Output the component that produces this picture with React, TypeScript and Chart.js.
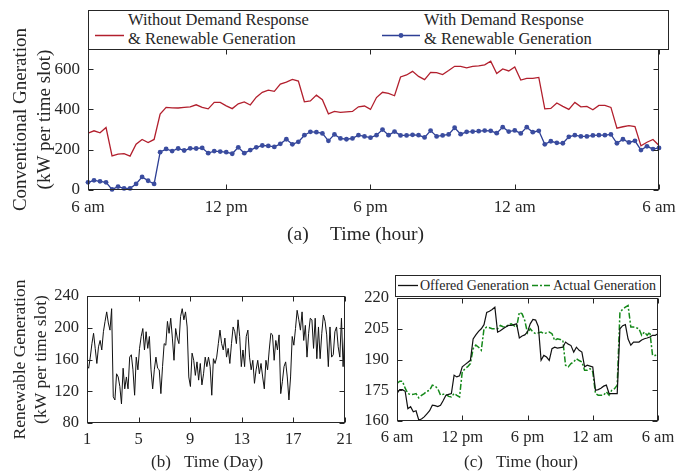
import React, { useEffect, useRef } from 'react';
import { Chart, registerables } from 'chart.js';
Chart.register(...registerables);

const SERIF = '"Liberation Serif", "Times New Roman", Times, serif';
const INK = '#262626';
const RED = '#b21f2d';
const BLUE = '#2d3f95';
const GREEN = '#15891a';

// ---------- Panel (a): conventional generation, 96 slots of 15 min ----------
const hourTickLabels = ['6 am', '12 pm', '6 pm', '12 am', '6 am'];
const slotTicksA = [1, 24, 48, 72, 96];
const convTicks = [0, 200, 400, 600];
const withoutDR = [
  282, 294, 284, 310, 169, 178, 181, 168, 227, 251, 236, 251, 377, 410, 408, 407, 410, 413, 423, 410, 403, 435, 435, 418,
  404, 428, 437, 422, 461, 485, 496, 490, 526, 536, 549, 541, 438, 442, 471, 448, 378, 390, 385, 388, 390, 413, 417, 400,
  459, 485, 480, 468, 561, 571, 589, 564, 548, 584, 583, 573, 593, 614, 614, 606, 614, 616, 621, 639, 578, 601, 591, 611,
  546, 554, 554, 559, 403, 405, 432, 415, 400, 435, 413, 415, 398, 420, 420, 410, 307, 314, 320, 315, 219, 237, 251, 221,
];
const withDR = [
  38, 48, 43, 38, 3, 17, 8, 8, 30, 65, 46, 30, 188, 204, 193, 206, 196, 207, 206, 209, 183, 193, 191, 188,
  180, 212, 183, 198, 212, 221, 219, 214, 229, 252, 227, 239, 272, 289, 287, 281, 244, 276, 256, 252, 256, 272, 266, 260,
  272, 300, 272, 290, 271, 271, 274, 272, 261, 295, 266, 271, 276, 309, 277, 289, 290, 292, 295, 294, 282, 312, 290, 296,
  281, 312, 287, 294, 227, 242, 234, 232, 264, 272, 266, 266, 271, 272, 272, 276, 232, 252, 236, 244, 198, 217, 203, 209,
];

// ---------- Panel (b): renewable generation over 21 days ----------
const dayTicks = [1, 5, 9, 13, 17, 21];
const dayLabels = ['1', '5', '9', '13', '17', '21'];
const renewTicks = [80, 120, 160, 200, 240];
const renewable = [
  152, 149, 163, 180, 193, 174, 155, 176, 184, 172, 195, 208, 220, 206, 197, 224,
  113, 109, 142, 138, 126, 104, 149, 123, 138, 123,
  163, 166, 147, 115, 163, 147, 174, 189, 199, 172,
  195, 174, 189, 147, 123, 147, 163, 149, 147, 117,
  151, 180, 178, 208, 193, 212, 187, 159, 199, 187,
  180, 214, 224, 210, 220, 201, 138, 126, 168, 159,
  140, 157, 134, 155, 128, 142, 163, 151, 163, 151,
  115, 161, 155, 163, 180, 197, 180, 172, 187, 163,
  174, 155, 180, 201, 195, 180, 210, 189, 151, 172,
  151, 189, 197, 163, 147, 159, 130, 147, 159, 142,
  155, 138, 123, 159, 147, 172, 193, 191, 159, 184,
  172, 191, 117, 132, 151, 157, 138, 109, 138, 189,
  178, 199, 222, 210, 197, 220, 184, 203, 163, 193,
  212, 210, 174, 212, 161, 201, 161, 193, 216, 208,
  191, 151, 201, 163, 166, 195, 201, 176, 163, 212,
  151, 195,
];

// ---------- Panel (c): offered vs actual generation, 97 slots ----------
const slotTicksC = [0, 24, 48, 72, 96];
const genTicks = [160, 175, 190, 205, 220];
const offered = [
  173.4, 175.3, 175.3, 174.5, 166, 167, 164.5, 165, 160.5, 161, 162, 163.5, 165, 167.7, 167.5, 167, 167.7, 170, 172.6, 173, 173.4, 182.3, 181.5, 182,
  186.4, 187.5, 188.5, 189.6, 200, 202, 203.7, 205, 207, 213, 213.5, 214.4, 215.5, 203.4, 204, 205, 205.8, 206.6, 206.6, 207, 207.4, 200.5, 201.5, 202,
  203.4, 207.4, 209.5, 209.2, 206, 189.6, 192, 191.2, 189.6, 195.3, 196, 195.6, 195.8, 196, 198.5, 197.5, 196.8, 193.6, 196, 194.5, 193.6, 186.4, 187.2, 186.8,
  186.4, 175, 175.3, 176, 177, 177.5, 173.4, 173.4, 173.4, 173.4, 205, 206.5, 207, 200, 197, 198.5, 198.5, 198.5, 199.5, 200.1, 200.5, 201, 201.8, 201.8, 202.6,
];
const actual = [
  178.3, 179.4, 179.4, 176, 173.4, 172.9, 173, 173.4, 171.3, 172.5, 173.4, 174.5, 175, 177.5, 177, 175.8, 172.6, 173, 173, 172, 171.7, 173.4, 172.5, 171.7,
  184, 185.5, 186.5, 188, 195.3, 197, 196, 194.5, 205, 205.8, 205.5, 205, 205, 205, 206.6, 206, 205.8, 207, 207.4, 206.5, 205.8, 213, 212.3, 209,
  203, 205, 203.4, 202.6, 203, 203.4, 202.6, 203, 203.4, 202.6, 199.3, 200.1, 199.8, 199.3, 187.2, 186.4, 188, 188.8, 190.4, 189.5, 188.8, 184.7, 184.7, 185.5,
  184, 173.4, 172.6, 172.6, 172.6, 174.2, 172.6, 175, 175.8, 177.5, 213.1, 214.5, 215.5, 216.3, 205.8, 205.8, 205.5, 205, 201.8, 203.4, 201.8, 203.4, 192, 192, 192.5,
];

// MATLAB-like box with inward tick marks on all four sides
const matlabBox = {
  id: 'matlabBox',
  afterDatasetsDraw(chart: any) {
    const { ctx, chartArea: a, scales } = chart;
    ctx.save();
    ctx.strokeStyle = INK;
    ctx.lineWidth = 1;
    const L = Math.round(a.left) + 0.5;
    const R = Math.round(a.right) - 0.5;
    const T = Math.round(a.top) + 0.5;
    const B = Math.round(a.bottom) - 0.5;
    const tl = 5;
    ctx.beginPath();
    scales.x.ticks.forEach((t: any) => {
      const p = Math.round(scales.x.getPixelForValue(t.value)) + 0.5;
      ctx.moveTo(p, B); ctx.lineTo(p, B - tl);
      ctx.moveTo(p, T); ctx.lineTo(p, T + tl);
    });
    scales.y.ticks.forEach((t: any) => {
      const p = Math.round(scales.y.getPixelForValue(t.value)) + 0.5;
      ctx.moveTo(L, p); ctx.lineTo(L + tl, p);
      ctx.moveTo(R, p); ctx.lineTo(R - tl, p);
    });
    ctx.stroke();
    ctx.strokeRect(L, T, R - L, B - T);
    ctx.restore();
  },
};

function buildOptions(o: any) {
  return {
    responsive: false,
    animation: false,
    events: [],
    layout: { padding: o.padding },
    plugins: { legend: { display: false }, tooltip: { enabled: false } },
    scales: {
      x: {
        type: 'linear',
        min: o.xMin,
        max: o.xMax,
        afterBuildTicks: (s: any) => { s.ticks = o.xTicks.map((v: number) => ({ value: v })); },
        afterFit: (s: any) => { s.height = o.xHeight; },
        grid: { display: false, drawTicks: false },
        border: { display: false },
        ticks: {
          color: INK,
          font: { family: SERIF, size: o.tickSize },
          padding: o.xPad,
          maxRotation: 0,
          autoSkip: false,
          callback: (_v: any, i: number) => o.xLabels[i],
        },
      },
      y: {
        type: 'linear',
        min: o.yMin,
        max: o.yMax,
        afterBuildTicks: (s: any) => { s.ticks = o.yTicks.map((v: number) => ({ value: v })); },
        afterFit: (s: any) => { s.width = o.yWidth; },
        grid: { display: false, drawTicks: false },
        border: { display: false },
        ticks: {
          color: INK,
          font: { family: SERIF, size: o.tickSize },
          padding: 8,
          callback: (v: any) => String(v),
        },
        title: o.yTitle
          ? {
              display: true,
              text: o.yTitle,
              color: INK,
              font: { family: SERIF, size: o.titleSize, lineHeight: 1.25 },
              padding: { top: 9, bottom: 0 },
            }
          : { display: false },
      },
    },
  };
}

function ChartCanvas({ left, top, width, height, build }: any) {
  const ref = useRef<HTMLCanvasElement>(null);
  useEffect(() => {
    const chart = new Chart(ref.current as HTMLCanvasElement, build());
    return () => chart.destroy();
  }, []);
  return (
    <canvas
      ref={ref}
      width={width}
      height={height}
      style={{ position: 'absolute', left, top, width, height, display: 'block' }}
    />
  );
}

const buildA = () => ({
  type: 'line',
  data: {
    datasets: [
      {
        data: withoutDR.map((y, i) => ({ x: i + 1, y })),
        borderColor: RED,
        borderWidth: 1.3,
        pointRadius: 0,
        tension: 0,
      },
      {
        data: withDR.map((y, i) => ({ x: i + 1, y })),
        borderColor: BLUE,
        borderWidth: 1.3,
        pointRadius: 2.4,
        pointBackgroundColor: '#3a4c9f',
        pointBorderColor: '#3a4c9f',
        pointBorderWidth: 0,
        tension: 0,
        clip: false,
      },
    ],
  },
  options: buildOptions({
    padding: { top: 49, right: 27, left: 0, bottom: 0 },
    xMin: 1, xMax: 96, xTicks: slotTicksA, xLabels: hourTickLabels, xHeight: 60, xPad: 7,
    yMin: 0, yMax: 700, yTicks: convTicks, yWidth: 88,
    tickSize: 17,
    yTitle: ['Conventional Gneration', '(kW per time slot)'],
    titleSize: 19,
  }),
  plugins: [matlabBox],
});

const buildB = () => ({
  type: 'line',
  data: {
    datasets: [
      {
        data: renewable.map((y, i) => ({ x: 1 + (i * 20) / (renewable.length - 1), y })),
        borderColor: '#111111',
        borderWidth: 1,
        pointRadius: 0,
        tension: 0,
      },
    ],
  },
  options: buildOptions({
    padding: { top: 41, right: 12, left: 0, bottom: 0 },
    xMin: 1, xMax: 21, xTicks: dayTicks, xLabels: dayLabels, xHeight: 32, xPad: 7,
    yMin: 80, yMax: 240, yTicks: renewTicks, yWidth: 87,
    tickSize: 16.5,
    yTitle: ['Renewable Generation', '(kW per time slot)'],
    titleSize: 17.5,
  }),
  plugins: [matlabBox],
});

const buildC = () => ({
  type: 'line',
  data: {
    datasets: [
      {
        data: offered.map((y, i) => ({ x: i, y })),
        borderColor: '#111111',
        borderWidth: 1.2,
        pointRadius: 0,
        tension: 0,
      },
      {
        data: actual.map((y, i) => ({ x: i, y })),
        borderColor: GREEN,
        borderWidth: 1.5,
        borderDash: [6, 2, 2, 2],
        pointRadius: 0,
        tension: 0,
      },
    ],
  },
  options: buildOptions({
    padding: { top: 43, right: 28, left: 0, bottom: 0 },
    xMin: 0, xMax: 96, xTicks: slotTicksC, xLabels: hourTickLabels, xHeight: 34, xPad: 7,
    yMin: 160, yMax: 220, yTicks: genTicks, yWidth: 37,
    tickSize: 16.5,
    yTitle: null,
  }),
  plugins: [matlabBox],
});

const txt = (left: number, top: number, size: number, extra: any = {}) => ({
  position: 'absolute' as const,
  left,
  top,
  fontSize: size,
  lineHeight: `${Math.round(size * 1.15)}px`,
  whiteSpace: 'nowrap' as const,
  fontFamily: SERIF,
  color: INK,
  ...extra,
});

export default function App() {
  return (
    <div style={{ position: 'absolute', left: 0, top: 0, width: 686, height: 475, background: '#fff', overflow: 'hidden' }}>
      <ChartCanvas left={0} top={0} width={686} height={250} build={buildA} />
      <ChartCanvas left={0} top={255} width={360} height={200} build={buildB} />
      <ChartCanvas left={360} top={255} width={326} height={200} build={buildC} />

      {/* legend (a) */}
      <div style={{ position: 'absolute', left: 88, top: 10, width: 581, height: 40, border: `1px solid ${INK}`, boxSizing: 'border-box', background: '#fff' }} />
      <svg style={{ position: 'absolute', left: 0, top: 0 }} width={686} height={60}>
        <line x1={95} y1={35.5} x2={124} y2={35.5} stroke={RED} strokeWidth={1.5} />
        <line x1={382} y1={35.5} x2={420} y2={35.5} stroke={BLUE} strokeWidth={1.5} />
        <circle cx={401} cy={35.5} r={2.4} fill="#3a4c9f" />
      </svg>
      <div style={txt(128, 10, 16.5, { lineHeight: '19px' })}>
        Without Demand Response
        <br />
        &amp; Renewable Generation
      </div>
      <div style={txt(424, 10, 16.5, { lineHeight: '19px' })}>
        With Demand Response
        <br />
        &amp; Renewable Generation
      </div>

      {/* legend (c) */}
      <div style={{ position: 'absolute', left: 395, top: 275, width: 266, height: 22, border: `1px solid ${INK}`, boxSizing: 'border-box', background: '#fff' }} />
      <svg style={{ position: 'absolute', left: 390, top: 275 }} width={280} height={22}>
        <line x1={8} y1={10.5} x2={28} y2={10.5} stroke="#111111" strokeWidth={1.3} />
        <line x1={142} y1={10.5} x2={162} y2={10.5} stroke={GREEN} strokeWidth={1.5} strokeDasharray="6 2 2 2" />
      </svg>
      <div style={txt(420, 276, 14, { lineHeight: '20px' })}>Offered Generation</div>
      <div style={txt(553, 276, 14, { lineHeight: '20px' })}>Actual Generation</div>

      {/* captions */}
      <div style={txt(287, 223, 19.5, { lineHeight: '22px' })}>(a)</div>
      <div style={txt(330, 223, 19.5, { lineHeight: '22px' })}>Time (hour)</div>
      <div style={txt(151, 452, 17, { lineHeight: '20px' })}>(b)</div>
      <div style={txt(184, 452, 17, { lineHeight: '20px' })}>Time (Day)</div>
      <div style={txt(464, 452, 17, { lineHeight: '20px' })}>(c)</div>
      <div style={txt(496, 452, 17, { lineHeight: '20px' })}>Time (hour)</div>
    </div>
  );
}
